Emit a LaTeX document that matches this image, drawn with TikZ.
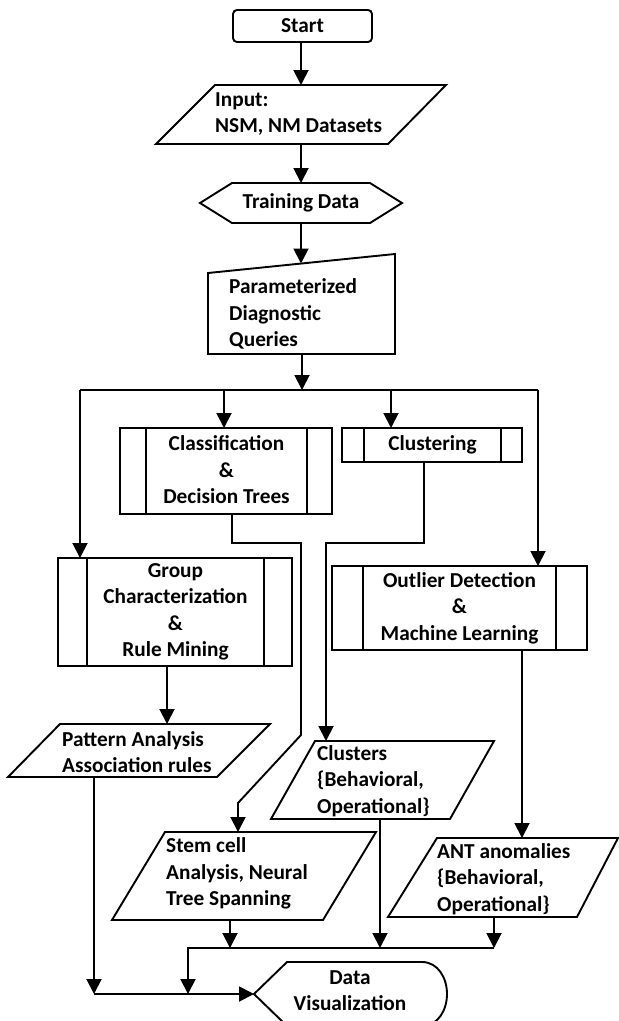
\documentclass[tikz,border=0pt]{standalone}
\usepackage{fontspec}
\setmainfont{Carlito}
\usetikzlibrary{arrows.meta,calc}
\begin{document}
\begin{tikzpicture}[x=1pt,y=-1pt,
  line/.style={line width=1.9pt, line join=miter},
  arr/.style={line width=1.9pt,-{Triangle[length=15pt,width=15pt]}},
  txt/.style={font=\fontsize{21.3}{26.5}\selectfont\bfseries, inner sep=0pt},
  ltxt/.style={txt, align=left, anchor=west},
  ctxt/.style={txt, align=center}]
\useasboundingbox (0,0) rectangle (619,1021);
\clip (0,0) rectangle (619,1021);

% ---------- shapes ----------
% Start
\draw[line, rounded corners=4pt] (233,10) rectangle (372,42);
\node[ctxt] (start) at (302.5,26) {Start};
% Input
\draw[line] (215,85) -- (446,85) -- (388,144) -- (156,144) -- cycle;
\node[ltxt] (input) at (215,114) {Input:\\NSM, NM Datasets};
% Training data (hexagon)
\draw[line] (200,203) -- (232,183) -- (370,183) -- (402,203) -- (370,223) -- (232,223) -- cycle;
\node[ctxt] (train) at (301,203) {Training Data};
% Manual input
\draw[line] (208,273) -- (395,254) -- (395,354) -- (208,354) -- cycle;
\node[ltxt] (query) at (229,314) {Parameterized\\Diagnostic\\Queries};
% Classification
\draw[line] (120,428) rectangle (332,514);
\draw[line] (146,428) -- (146,514) (307,428) -- (307,514);
\node[ctxt] (class) at (226.5,470) {Classification\\\&\\Decision Trees};
% Clustering
\draw[line] (342,428) rectangle (522,462);
\draw[line] (364,428) -- (364,462) (501,428) -- (501,462);
\node[ctxt] (clust) at (432.5,445) {Clustering};
% Group
\draw[line] (58,558) rectangle (292,666);
\draw[line] (87,558) -- (87,666) (264,558) -- (264,666);
\node[ctxt] (group) at (175.5,612) {Group\\Characterization\\\&\\Rule Mining};
% Outlier
\draw[line] (332,566) rectangle (587,650);
\draw[line] (363,566) -- (363,650) (556,566) -- (556,650);
\node[ctxt] (outl) at (459.5,608) {Outlier Detection\\\&\\Machine Learning};
% Pattern
\draw[line] (60,724) -- (270,724) -- (217,777) -- (8,777) -- cycle;
\node[ltxt] (patt) at (62,752) {Pattern Analysis\\Association rules};
% Clusters
\draw[line] (315,741) -- (494,741) -- (450,819) -- (271,819) -- cycle;
\node[ltxt] (clusters) at (317,781) {Clusters\\\{Behavioral,\\Operational\}};
% Stem
\draw[line] (165,832) -- (376,832) -- (323,920) -- (112,920) -- cycle;
\node[ltxt] (stem) at (166,873.5) {Stem cell\\Analysis, Neural\\Tree Spanning};
% ANT
\draw[line] (437,838) -- (618,838) -- (577,917) -- (388,917) -- cycle;
\node[ltxt] (ant) at (437,879) {ANT anomalies\\\{Behavioral,\\Operational\}};
% Data visualization (display)
\draw[line] (254,994) -- (287,962) -- (422,962)
  .. controls (438,962) and (447,978) .. (447,994)
  .. controls (447,1010) and (438,1026) .. (422,1026) -- (287,1026) -- cycle;
\node[ctxt] (viz) at (350,990.5) {Data\\Visualization};

% ---------- connection points ----------
\coordinate (startS) at (301,42);
\coordinate (inputN) at (301,85);
\coordinate (inputS) at (301,144);
\coordinate (trainN) at (301,183);
\coordinate (trainS) at (301,223);
\coordinate (queryN) at (301,263.5);
\coordinate (queryS) at (302,354);
\coordinate (split) at (302,390);
\coordinate (splitL) at (80,390);
\coordinate (splitR) at (538,390);
\coordinate (splitC) at (224,390);
\coordinate (splitK) at (391,390);
\coordinate (groupN) at (80,558);
\coordinate (classN) at (224,428);
\coordinate (clustN) at (391,428);
\coordinate (outlN) at (538,566);
\coordinate (classS) at (232,514);
\coordinate (clustS) at (424,462);
\coordinate (stemN) at (238,832);
\coordinate (clustersN) at (326,741);
\coordinate (groupS) at (167,666);
\coordinate (pattN) at (167,724);
\coordinate (outlS) at (522,650);
\coordinate (antN) at (522,838);
\coordinate (pattS) at (94,777);
\coordinate (joinL) at (94,994);
\coordinate (vizW) at (254,994);
\coordinate (stemS) at (230,920);
\coordinate (clustersS) at (380,819);
\coordinate (antS) at (494,917);
\coordinate (mergeR) at (494,948);
\coordinate (mergeM) at (380,948);
\coordinate (mergeS) at (230,948);
\coordinate (mergeL) at (188,948);
\coordinate (mergeD) at (188,994);

% ---------- connectors ----------
\draw[arr] (startS) -- (inputN);
\draw[arr] (inputS) -- (trainN);
\draw[arr] (trainS) -- (queryN);
\draw[arr] (queryS) -- (split);
\draw[line] (splitL) -- (splitR);
\draw[arr] (splitL) -- (groupN);
\draw[arr] (splitC) -- (classN);
\draw[arr] (splitK) -- (clustN);
\draw[arr] (splitR) -- (outlN);
\draw[arr] (classS) -- (232,543) -- (301,543) -- (301,735) -- (238,803) -- (stemN);
\draw[arr] (clustS) -- (424,543) -- (326,543) -- (clustersN);
\draw[arr] (groupS) -- (pattN);
\draw[arr] (outlS) -- (antN);
\draw[arr] (pattS) -- (joinL);
\draw[arr] (joinL) -- (vizW);
\draw[arr] (stemS) -- (mergeS);
\draw[arr] (clustersS) -- (mergeM);
\draw[arr] (antS) -- (mergeR);
\draw[arr] (mergeR) -- (mergeL) -- (mergeD);
\end{tikzpicture}
\end{document}
